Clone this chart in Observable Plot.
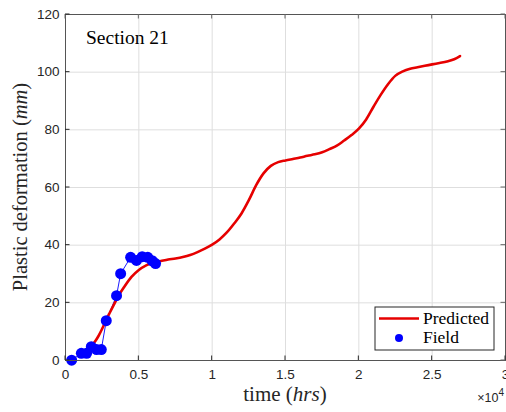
<!DOCTYPE html>
<html><head><meta charset="utf-8">
<script src="https://cdn.jsdelivr.net/npm/d3@7"></script>
<script src="https://cdn.jsdelivr.net/npm/@observablehq/plot@0.6"></script>
<style>
body{margin:0;background:#fff;}
#wrap{width:506px;height:412px;}
</style></head><body><div id="wrap"></div>
<script>
// Field measurements (time in hrs, plastic deformation in mm)
const fieldTime = [420, 1080, 1440, 1760, 2120, 2440, 2780, 3480, 3760, 4440, 4840, 5230, 5610, 5910, 6140];
const fieldDef  = [0.1, 2.5, 2.5, 4.8, 3.8, 3.8, 13.8, 22.5, 30.1, 35.8, 34.7, 36.0, 35.8, 34.6, 33.6];

// Predicted curve
const predTime = [1750, 2000, 2250, 2500, 2750, 3000, 3300, 3600, 4000, 4500, 5000, 5500, 6000, 6500, 7000, 7500, 8000, 8500, 9000, 9500,
  10000, 10500, 11000, 11500, 12000, 12500, 13000, 13500, 14000, 14500, 15000, 15500, 16000, 16500, 17000, 17500, 18000, 18500, 19000, 19500,
  20000, 20500, 21000, 21500, 22000, 22500, 23000, 23500, 24000, 24500, 25000, 25500, 26000, 26500, 26900];
const predDef = [5.0, 6.5, 8.5, 11.0, 13.8, 16.4, 19.4, 22.3, 25.5, 29.0, 31.4, 33.0, 34.0, 34.5, 35.0, 35.4, 35.9, 36.6, 37.6, 38.8,
  40.2, 42.0, 44.4, 47.5, 51.0, 55.6, 60.8, 64.9, 67.5, 68.8, 69.4, 69.9, 70.4, 71.0, 71.5, 72.2, 73.3, 74.5, 76.3, 78.2,
  80.4, 83.6, 88.0, 92.2, 95.9, 98.8, 100.3, 101.2, 101.7, 102.2, 102.7, 103.2, 103.7, 104.5, 105.6];

const xTicks = [0, 5000, 10000, 15000, 20000, 25000, 30000];
const yTicks = [0, 20, 40, 60, 80, 100, 120];
const seriesNames = ["Predicted", "Field"];
const annotation = "Section 21";

const field = fieldTime.map((t, i) => ({t, d: fieldDef[i]}));
const pred = predTime.map((t, i) => ({t, d: predDef[i]}));

const RED = "#e60000", BLUE = "#0000ff", AX = "#262626";

const chart = Plot.plot({
  width: 506, height: 412,
  marginLeft: 65, marginRight: 1, marginTop: 14, marginBottom: 52,
  x: {domain: [0, 30000]},
  y: {domain: [0, 120]},
  style: {fontFamily: "'Liberation Sans', Arial, sans-serif", fontSize: "13.5px", color: AX, background: "white", overflow: "visible"},
  marks: [
    Plot.gridX(xTicks, {stroke: "#dedede", strokeOpacity: 1}),
    Plot.gridY(yTicks, {stroke: "#dedede", strokeOpacity: 1}),
    Plot.axisX(xTicks, {tickSize: 0, tickPadding: 9, tickFormat: d => String(d / 10000), label: null, fill: AX}),
    Plot.axisY(yTicks, {tickSize: 0, tickPadding: 6, label: null, fill: AX}),
    Plot.line(field, {x: "t", y: "d", stroke: BLUE, strokeWidth: 0.9}),
    Plot.line(pred, {x: "t", y: "d", stroke: RED, strokeWidth: 2.6, curve: "monotone-x"}),
    Plot.dot(field, {x: "t", y: "d", r: 5.5, fill: BLUE, stroke: "none"}),
    Plot.frame({stroke: "#555", strokeWidth: 1})
  ]
});

const svg = d3.select(chart);
const sx = chart.scale("x"), sy = chart.scale("y");
const [x0, x1] = sx.range, [y0, y1] = sy.range; // y0 bottom, y1 top

// inward ticks on all four sides
const tg = svg.append("g").attr("stroke", AX).attr("stroke-width", 1);
xTicks.forEach(v => {
  const px = sx.apply(v);
  tg.append("line").attr("x1", px).attr("x2", px).attr("y1", y0).attr("y2", y0 - 4.5);
  tg.append("line").attr("x1", px).attr("x2", px).attr("y1", y1).attr("y2", y1 + 4.5).attr("stroke", "#666");
});
yTicks.forEach(v => {
  const py = sy.apply(v);
  tg.append("line").attr("x1", x0).attr("x2", x0 + 4.5).attr("y1", py).attr("y2", py);
  tg.append("line").attr("x1", x1).attr("x2", x1 - 4.5).attr("y1", py).attr("y2", py).attr("stroke", "#666");
});

const serif = "'Liberation Serif', 'Times New Roman', 'DejaVu Serif', serif";
const setSerif = (sel, size) => sel.style("font-family", serif).style("font-size", size + "px");

// annotation
setSerif(svg.append("text").attr("x", x0 + 21).attr("y", y1 + 29.5).attr("text-anchor", "start")
  .attr("fill", "#000").text(annotation), 19.5);

// x label
const xl = setSerif(svg.append("text").attr("x", (x0 + x1) / 2).attr("y", 401).attr("text-anchor", "middle").attr("fill", AX), 21);
xl.append("tspan").text("time (");
xl.append("tspan").style("font-style", "italic").text("hrs");
xl.append("tspan").text(")");

// y label
const yl = setSerif(svg.append("text").attr("transform", `translate(26.5,${(y0 + y1) / 2}) rotate(-90)`).attr("text-anchor", "middle").attr("fill", AX), 20.5);
yl.append("tspan").text("Plastic deformation (");
yl.append("tspan").style("font-style", "italic").text("mm");
yl.append("tspan").text(")");

// exponent
const ex = svg.append("text").attr("x", x1 - 1).attr("y", 402).attr("text-anchor", "end")
  .style("font-family", "'Liberation Sans', Arial, sans-serif").style("font-size", "12.5px").attr("fill", AX);
ex.append("tspan").text("\u00d710");
ex.append("tspan").attr("dy", -6).style("font-size", "10px").text("4");

// legend
const lw = 119, lh = 43;
const lx = x1 - 11 - lw, ly = y0 - 10 - lh;
const lg = svg.append("g");
lg.append("rect").attr("x", lx).attr("y", ly).attr("width", lw).attr("height", lh)
  .attr("fill", "white").attr("stroke", AX).attr("stroke-width", 1);
lg.append("line").attr("x1", lx + 4).attr("x2", lx + 44).attr("y1", ly + 11.5).attr("y2", ly + 11.5)
  .attr("stroke", RED).attr("stroke-width", 2.6);
lg.append("circle").attr("cx", lx + 24).attr("cy", ly + 31).attr("r", 4).attr("fill", BLUE);
setSerif(lg.append("text").attr("x", lx + 48).attr("y", ly + 16.5).attr("text-anchor", "start").attr("fill", "#000").text(seriesNames[0]), 17.5);
setSerif(lg.append("text").attr("x", lx + 48).attr("y", ly + 36).attr("text-anchor", "start").attr("fill", "#000").text(seriesNames[1]), 17.5);

document.getElementById("wrap").appendChild(chart);
</script></body></html>
